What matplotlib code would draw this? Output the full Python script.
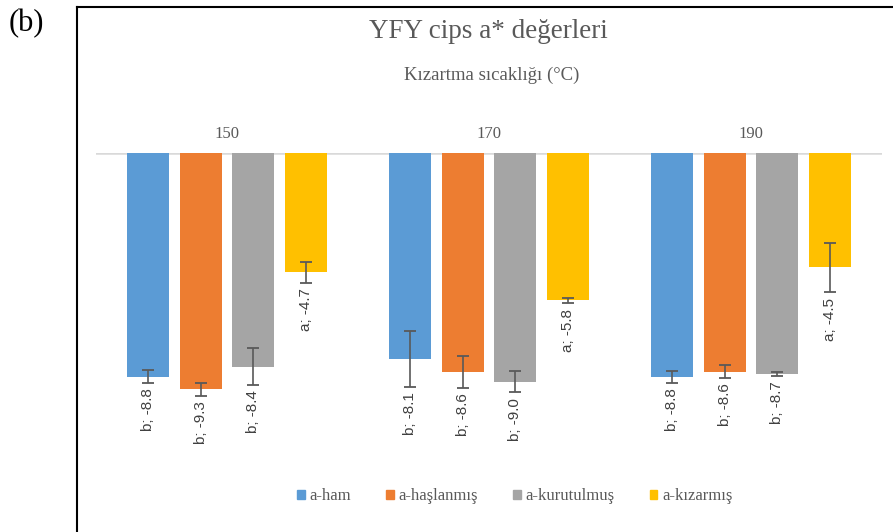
import matplotlib as mpl
import matplotlib.pyplot as plt
import numpy as np
from matplotlib.patches import Patch
from matplotlib.lines import Line2D

mpl.rc("font", family="Liberation Serif", size=12)

# data
temps = ["150", "170", "190"]
series = ["a-ham", "a-haşlanmış", "a-kurutulmuş", "a-kızarmış"]
colors = ["#5B9BD5", "#ED7D31", "#A5A5A5", "#FFC000"]
ham = [-8.8, -8.1, -8.8]
haslanmis = [-9.3, -8.6, -8.6]
kurutulmus = [-8.4, -9.0, -8.7]
kizarmis = [-4.7, -5.8, -4.5]
err_ham = [0.25, 1.1, 0.23]
err_haslanmis = [0.26, 0.63, 0.25]
err_kurutulmus = [0.73, 0.42, 0.07]
err_kizarmis = [0.4, 0.1, 0.97]
letters_ham = ["b", "b", "b"]
letters_haslanmis = ["b", "b", "b"]
letters_kurutulmus = ["b", "b", "b"]
letters_kizarmis = ["a", "a", "a"]

values = [ham, haslanmis, kurutulmus, kizarmis]
errors = [err_ham, err_haslanmis, err_kurutulmus, err_kizarmis]
letters = [letters_ham, letters_haslanmis, letters_kurutulmus, letters_kizarmis]

W, H = 893, 532
fig = plt.figure(figsize=(W / 100, H / 100), dpi=100)
ax = fig.add_axes([96 / W, 1 - 458 / H, 786 / W, 305 / H])

x = np.arange(len(temps))
step = 0.2
width = 0.16
for i, (vals, errs, lets) in enumerate(zip(values, errors, letters)):
    pos = x + (i - 1.5) * step
    ax.bar(pos, vals, width, color=colors[i], zorder=2)
    ax.errorbar(pos, vals, yerr=errs, fmt="none", ecolor="#595959",
                elinewidth=1.2, capsize=4, capthick=1.3, zorder=3)
    for p, v, e, l in zip(pos, vals, errs, lets):
        ax.annotate("{}; {:.1f}".format(l, v), (p, v - e), xytext=(0, -4),
                    textcoords="offset points", rotation=90, ha="center",
                    va="top", fontsize=11, color="#404040",
                    family="Liberation Sans", zorder=4)

ax.axhline(0, color="#D9D9D9", lw=1.8, zorder=1)
ax.set_xlim(-0.5, 2.5)
ax.set_ylim(-12, 0)
ax.set_yticks([])
ax.xaxis.tick_top()
ax.set_xticks(x, temps)
ax.tick_params(axis="x", length=0, pad=8, labelsize=12, labelcolor="#595959")
for s in ax.spines.values():
    s.set_visible(False)

fig.text(488 / W, 1 - 32 / H, "YFY cips a* değerleri", ha="center",
         va="center", fontsize=19.5, color="#595959")
fig.text(492 / W, 1 - 75 / H, "Kızartma sıcaklığı (°C)", ha="center",
         va="center", fontsize=13.5, color="#595959")
fig.text(26 / W, 1 - 24 / H, "(b)", ha="center", va="center", fontsize=22,
         color="black")

# outer frame (right/bottom run off the picture)
fig.add_artist(Line2D([77 / W, 1], [1 - 7 / H, 1 - 7 / H], color="black", lw=1.5))
fig.add_artist(Line2D([77 / W, 77 / W], [0, 1 - 7 / H], color="black", lw=1.5))

handles = [Patch(color=c, label=s) for c, s in zip(colors, series)]
fig.legend(handles=handles, loc="center", bbox_to_anchor=(515 / W, 1 - 496 / H),
           ncol=4, frameon=False, handlelength=0.45, handleheight=0.45,
           handletextpad=0.3, columnspacing=2.1, labelcolor="#595959",
           fontsize=12)

fig.savefig("out.png", dpi=100)
